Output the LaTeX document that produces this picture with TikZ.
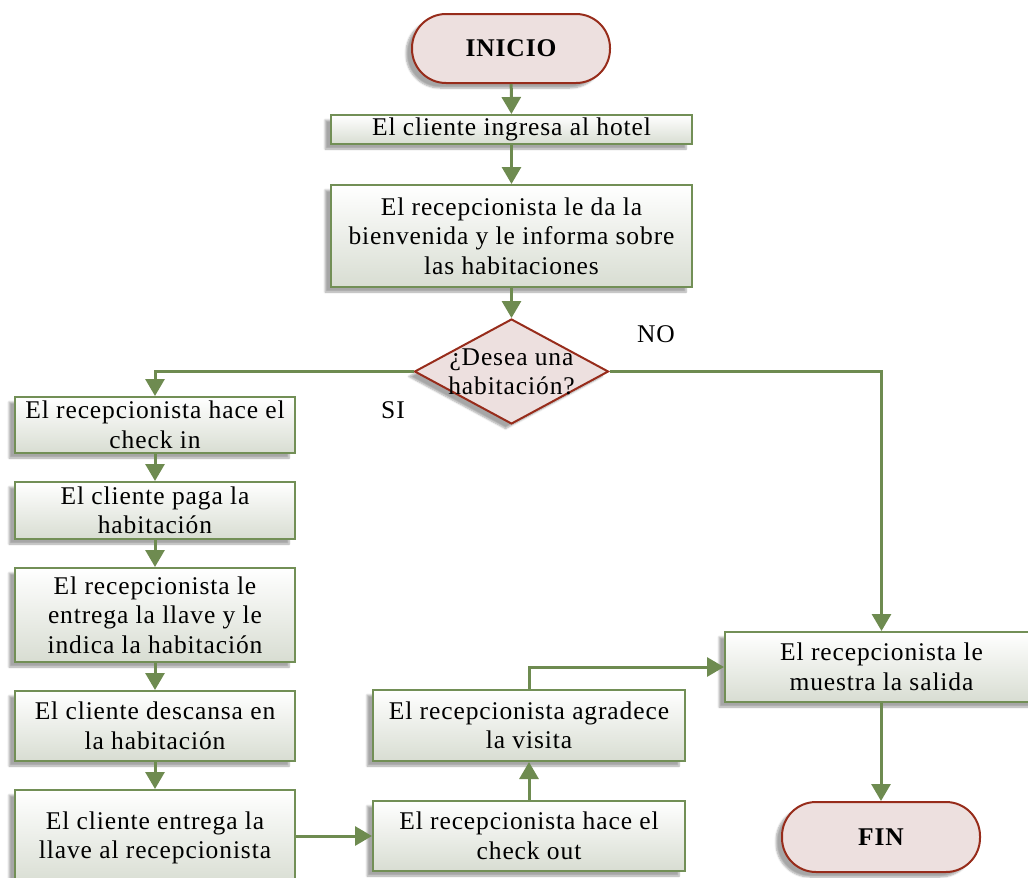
\documentclass[tikz,border=0pt]{standalone}
\usepackage{fontspec}
\setmainfont{Liberation Serif}[LetterSpace=3.5]
\usetikzlibrary{arrows.meta,shapes.geometric,shadows.blur}
\definecolor{arrgreen}{HTML}{6E8B50}
\definecolor{boxgreen}{HTML}{728F56}
\definecolor{boxfill}{HTML}{D8DDD2}
\definecolor{termfill}{HTML}{EDE0DF}
\definecolor{termdraw}{HTML}{972C1B}
\begin{document}
\begin{tikzpicture}[x=1pt,y=-1pt,
  txt/.style={font=\fontsize{25.5}{29.5}\selectfont, align=center},
  proc/.style={txt, draw=boxgreen, line width=2pt, top color=white, bottom color=boxfill, inner sep=0pt,
    blur shadow={shadow xshift=-6pt, shadow yshift=-5pt, shadow opacity=35, shadow blur steps=6}},
  term/.style={draw=termdraw, line width=2pt, fill=termfill, rounded corners=34pt, inner sep=0pt,
    font=\fontsize{25.5}{29.5}\selectfont\bfseries,
    blur shadow={shadow xshift=-6pt, shadow yshift=-5pt, shadow opacity=35, shadow blur steps=6}},
  dec/.style={diamond, draw=termdraw, line width=2pt, fill=termfill, inner sep=0pt, aspect=1.85,
    blur shadow={shadow xshift=-6pt, shadow yshift=-5pt, shadow opacity=35, shadow blur steps=6}},
  arr/.style={draw=arrgreen, line width=3pt, -{Triangle[length=17pt,width=19pt]}, arrgreen}
]
\useasboundingbox (0,0) rectangle (1028,878);
\clip (0,0) rectangle (1028,878);

\node[term, minimum width=198pt, minimum height=69pt] (ini) at (511,48.5) {INICIO};
\node[proc, minimum width=361pt, minimum height=29pt] (b1) at (511.5,129.5) {El cliente ingresa al hotel};
\node[proc, minimum width=361pt, minimum height=102pt] (b2) at (511.5,236) {El recepcionista le da la\\bienvenida y le informa sobre\\las habitaciones};
\node[dec, minimum width=194pt, minimum height=105pt] (d) at (511.5,371.5) {};
\node[txt] (dt) at (511.5,372) {¿Desea una\\habitación?};
\node[txt] (no) at (656,334) {NO};
\node[txt] (si) at (393,410) {SI};

\node[proc, minimum width=280pt, minimum height=56pt] (ci) at (155,425) {El recepcionista hace el\\check in};
\node[proc, minimum width=280pt, minimum height=57pt] (pg) at (155,510.5) {El cliente paga la\\habitación};
\node[proc, minimum width=280pt, minimum height=94pt] (en) at (155,615) {El recepcionista le\\entrega la llave y le\\indica la habitación};
\node[proc, minimum width=280pt, minimum height=70pt] (de) at (155,726) {El cliente descansa en\\la habitación};
\node[proc, minimum width=280pt, minimum height=96pt] (ll) at (155,838) {El cliente entrega la\\llave al recepcionista};

\node[proc, minimum width=312pt, minimum height=70pt] (co) at (529,836) {El recepcionista hace el\\check out};
\node[proc, minimum width=312pt, minimum height=71pt] (ag) at (529,725.5) {El recepcionista agradece\\la visita};
\node[proc, minimum width=313pt, minimum height=70pt] (sal) at (881.5,667) {El recepcionista le\\muestra la salida};
\node[term, minimum width=198pt, minimum height=70pt] (fin) at (881,837) {FIN};

\draw[arr] (ini) -- (b1);
\draw[arr] (b1) -- (b2);
\draw[arr] (b2) -- (d);
\draw[arr] (d.west) -| (ci.north);
\draw[arr] (d.east) -| (sal.north);
\draw[arr] (ci) -- (pg);
\draw[arr] (pg) -- (en);
\draw[arr] (en) -- (de);
\draw[arr] (de) -- (ll);
\draw[arr] (co.west -| ll.east) -- (co.west);
\draw[arr] (co) -- (ag);
\draw[arr] (ag.north) |- (sal.west);
\draw[arr] (sal.south -| fin.north) -- (fin.north);
\end{tikzpicture}
\end{document}
